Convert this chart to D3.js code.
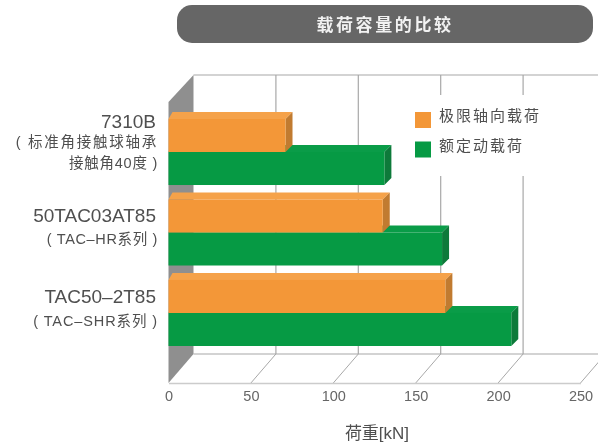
<!DOCTYPE html>
<html>

<head>
  <meta charset="utf-8">
  <title>载荷容量的比较</title>
  <script src="https://cdn.jsdelivr.net/npm/d3@7"></script>
  <style>
    html, body { margin: 0; padding: 0; background: #fff; }
    svg { display: block; filter: blur(0.4px); }
    text { font-family: "Liberation Sans", "Noto Sans CJK SC", sans-serif; fill: #4f4f4f; }
  </style>
</head>

<body>
  <script>
    // Chart data
    const chartTitle = "载荷容量的比较";
    const categories = ["7310B", "50TAC03AT85", "TAC50–2T85"];
    const subLabels = [
      ["( 标准角接触球轴承", "接触角40度 )"],
      ["( TAC–HR系列 )"],
      ["( TAC–SHR系列 )"]
    ];
    const seriesNames = ["极限轴向载荷", "额定动载荷"];
    const axialLoad = [71, 130, 168];
    const dynamicLoad = [131, 166, 208];
    const xTicks = [0, 50, 100, 150, 200, 250];
    const xTitle = "荷重[kN]";

    const w = 598, h = 442;
    const orange = { front: "#f39738", top: "#f5a24a", side: "#c17b30" };
    const green = { front: "#069a44", top: "#0a9c48", side: "#0d7a3a" };

    // depth of the 3d box and of the bars
    const wallDx = 25, wallDy = 29;
    const barD = 7;
    const floorY = 383, wallTop = 102, backTop = 75;

    const x = d3.scaleLinear().domain([0, 250]).range([168.5, 580.5]);
    const y = d3.scaleBand().domain(categories).range([119, 346]).paddingInner(0.18);
    const ySeries = d3.scaleBand().domain(seriesNames).range([0, y.bandwidth()]);

    const svg = d3.select("body").append("svg")
      .attr("width", w)
      .attr("height", h);

    // title pill
    svg.append("rect")
      .attr("x", 177).attr("y", 5)
      .attr("width", 416).attr("height", 38)
      .attr("rx", 15)
      .attr("fill", "#666666");
    svg.append("text")
      .attr("x", 385).attr("y", 31)
      .attr("text-anchor", "middle")
      .attr("font-size", 17)
      .attr("font-weight", 700)
      .attr("letter-spacing", 2.6)
      .style("fill", "#f2f2f2")
      .text(chartTitle);

    const grid = svg.append("g").attr("stroke", "#a8a8a8").attr("fill", "none");

    // back wall lines
    grid.append("line")
      .attr("x1", x(0) + wallDx).attr("x2", w)
      .attr("y1", backTop).attr("y2", backTop)
      .attr("stroke-width", 1.2);
    grid.selectAll("line.v")
      .data(xTicks.slice(1, 5))
      .enter()
      .append("line")
      .attr("class", "v")
      .attr("x1", d => x(d) + wallDx).attr("x2", d => x(d) + wallDx)
      .attr("y1", backTop).attr("y2", floorY - wallDy)
      .attr("stroke-width", 1.2);

    // floor
    grid.append("line")
      .attr("x1", x(0) + wallDx).attr("x2", w)
      .attr("y1", floorY - wallDy).attr("y2", floorY - wallDy)
      .attr("stroke-width", 1.2);
    grid.selectAll("line.d")
      .data(xTicks.slice(1))
      .enter()
      .append("line")
      .attr("class", "d")
      .attr("x1", d => x(d)).attr("x2", d => x(d) + wallDx)
      .attr("y1", floorY).attr("y2", floorY - wallDy)
      .attr("stroke-width", 1);

    // left wall
    svg.append("polygon")
      .attr("points", [
        [x(0), wallTop], [x(0) + wallDx, backTop],
        [x(0) + wallDx, floorY - wallDy], [x(0), floorY]
      ].join(" "))
      .attr("fill", "#8f8f8f");

    // legend sits on a white patch that breaks the grid
    svg.append("rect")
      .attr("x", 405).attr("y", 95)
      .attr("width", 140).attr("height", 81)
      .attr("fill", "#fff");

    const legend = svg.selectAll("g.legend")
      .data(seriesNames)
      .enter()
      .append("g")
      .attr("class", "legend")
      .attr("transform", (d, i) => `translate(415,${112 + i * 29.5})`);
    legend.append("rect")
      .attr("width", 16).attr("height", 16)
      .attr("fill", (d, i) => i === 0 ? orange.front : green.front);
    legend.append("text")
      .attr("x", 24).attr("y", 9)
      .attr("font-size", 15)
      .attr("letter-spacing", 2)
      .text(d => d);

    // bars, green first so the orange end face overlaps it
    function drawBar(g, name, value, c) {
      const x0 = x(0), x1 = x(value);
      const t = ySeries(name), b = t + ySeries.bandwidth();
      g.append("polygon")
        .attr("points", [[x0, t], [x0 + 4, t - barD], [x1 + barD, t - barD], [x1, t]].join(" "))
        .attr("fill", c.top);
      g.append("polygon")
        .attr("points", [[x1, t], [x1 + barD, t - barD], [x1 + barD, b - barD], [x1, b]].join(" "))
        .attr("fill", c.side);
      g.append("rect")
        .attr("x", x0).attr("y", t)
        .attr("width", x1 - x0).attr("height", b - t)
        .attr("fill", c.front);
    }

    categories.forEach(function (cat, i) {
      const g = svg.append("g").attr("transform", `translate(0,${y(cat)})`);
      drawBar(g, seriesNames[1], dynamicLoad[i], green);
      drawBar(g, seriesNames[0], axialLoad[i], orange);
    });

    // front axis
    const axis = svg.append("g")
      .attr("transform", `translate(0,${floorY})`)
      .call(d3.axisBottom(x).tickValues(xTicks).tickSize(0).tickPadding(8));
    axis.select(".domain").attr("stroke", "#cccccc").attr("stroke-width", 1.5);
    axis.selectAll("text")
      .attr("font-size", 14.5)
      .attr("font-family", "\"Liberation Sans\", sans-serif")
      .style("fill", "#666");

    svg.append("text")
      .attr("x", 377).attr("y", 439)
      .attr("text-anchor", "middle")
      .attr("font-size", 17)
      .text(xTitle);

    // category labels
    const labelY = [128, 222, 303];
    const subY = [[147, 168], [244], [326]];
    const subSpacing = [[1.75, 0.75], [0.65], [0.9]];
    categories.forEach(function (cat, i) {
      svg.append("text")
        .attr("x", 156).attr("y", labelY[i])
        .attr("text-anchor", "end")
        .attr("font-size", 19)
        .text(cat);
      subLabels[i].forEach(function (s, j) {
        svg.append("text")
          .attr("x", 158).attr("y", subY[i][j])
          .attr("text-anchor", "end")
          .attr("font-size", 14.5)
          .attr("letter-spacing", subSpacing[i][j])
          .text(s);
      });
    });
  </script>
</body>

</html>
